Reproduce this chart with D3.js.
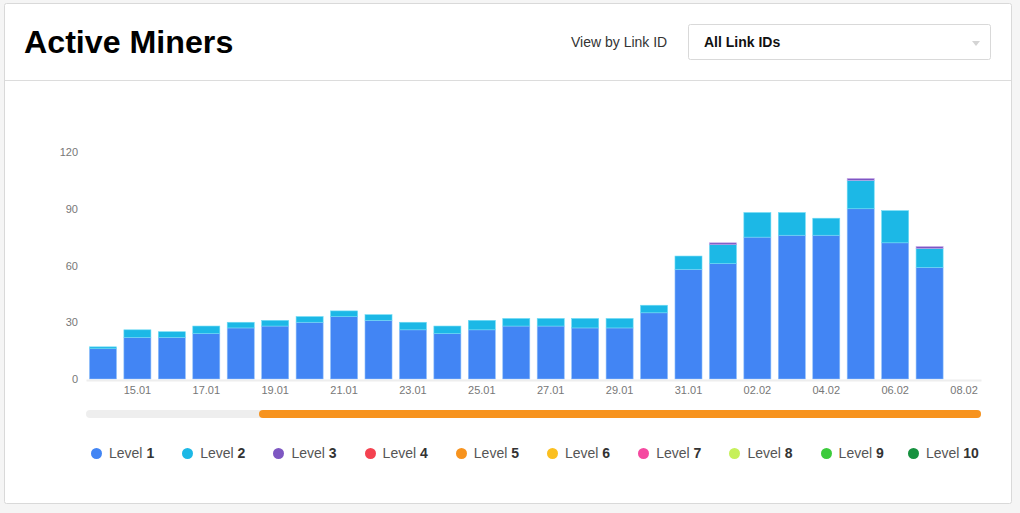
<!DOCTYPE html>
<html><head><meta charset="utf-8">
<script src="https://cdn.jsdelivr.net/npm/d3@7/dist/d3.min.js"></script>
<style>
html,body{margin:0;padding:0;background:#f5f5f5;width:1020px;height:513px;overflow:hidden;font-family:"Liberation Sans",Arial,sans-serif}
svg{position:absolute;left:0;top:0}
.legend{position:absolute;left:77px;width:912px;top:445px;display:grid;grid-template-columns:repeat(10,1fr);font-size:14px;line-height:16px;color:#555}
.legend .item{display:flex;align-items:center;justify-content:center}
.legend i{display:block;width:11px;height:11px;border-radius:50%;margin-right:7px}
.legend b{color:#333}
</style></head><body>
<svg id="chart" width="1020" height="513"></svg>
<div class="legend" id="legend"></div>
<script>
const dates = ["14.01","15.01","16.01","17.01","18.01","19.01","20.01","21.01","22.01","23.01","24.01","25.01","26.01","27.01","28.01","29.01","30.01","31.01","01.02","02.02","03.02","04.02","05.02","06.02","07.02","08.02"];
const tickDates = ["15.01","17.01","19.01","21.01","23.01","25.01","27.01","29.01","31.01","02.02","04.02","06.02","08.02"];
const yTicks = [0,30,60,90,120];
const level1 = [16,22,22,24,27,28,30,33,31,26,24,26,28,28,27,27,35,58,61,75,76,76,90,72,59,0];
const level2 = [1,4,3,4,3,3,3,3,3,4,4,5,4,4,5,5,4,7,10,13,12,9,15,17,10,0];
const level3 = [0,0,0,0,0,0,0,0,0,0,0,0,0,0,0,0,0,0,1,0,0,0,1,0,1,0];
const levelNames = ["1","2","3","4","5","6","7","8","9","10"];
const levelColors = ["#4285f4","#1cb8e6","#7e57c2","#f44250","#f7931e","#fbbf1f","#f549a0","#c6f05a","#3ccb3c","#16913f"];

const svg = d3.select("#chart");
// card
svg.append("rect").attr("x",4.5).attr("y",3.5).attr("width",1007).attr("height",500).attr("rx",2)
  .attr("fill","#fff").attr("stroke","#d9d9d9");
svg.append("line").attr("x1",5).attr("x2",1011).attr("y1",80.5).attr("y2",80.5).attr("stroke","#dcdcdc");
svg.append("text").attr("x",24).attr("y",53).attr("font-size",32.2).attr("font-weight",700).attr("fill","#000").text("Active Miners");
svg.append("text").attr("x",571).attr("y",47).attr("font-size",14).attr("fill","#333").text("View by Link ID");
svg.append("rect").attr("x",688.5).attr("y",24.5).attr("width",302).attr("height",35).attr("rx",2).attr("fill","#fff").attr("stroke","#d9d9d9");
svg.append("text").attr("x",704).attr("y",47).attr("font-size",14).attr("font-weight",700).attr("fill","#111").text("All Link IDs");
svg.append("path").attr("d","M972,41h8l-4,5z").attr("fill","#d4d4d4");

// scales
const x = d3.scaleBand().domain(dates).range([86,981]).paddingInner(0.215).paddingOuter(0.1);
const y = d3.scaleLinear().domain([0,120]).range([379,152]);

const rows = dates.map((d,i)=>({date:d,l1:level1[i],l2:level2[i],l3:level3[i]}));
const keys = ["l1","l2","l3"];
const stack = d3.stack().keys(keys)(rows);
const strokes = ["#8fc0fa","#6fdcf5","#c5a8ea"];

svg.append("g").selectAll("g").data(stack).join("g")
  .attr("fill",(d,i)=>levelColors[i]).attr("stroke",(d,i)=>strokes[i])
  .selectAll("rect").data(d=>d.filter(p=>p[1]>p[0])).join("rect")
  .attr("x",d=>x(d.data.date)).attr("width",x.bandwidth())
  .attr("y",d=>y(d[1])).attr("height",d=>y(d[0])-y(d[1]))
  .attr("stroke-width",0.6);

// axes
const xAxis = d3.axisBottom(x).tickValues(tickDates).tickSize(0).tickPadding(6);
const gx = svg.append("g").attr("transform","translate(0,380)").call(xAxis);
gx.select(".domain").attr("stroke","#eee").attr("stroke-width",2);
gx.selectAll("text").attr("font-size",11).attr("font-family","Liberation Sans").attr("fill","#777");
const yAxis = d3.axisLeft(y).tickValues(yTicks).tickSize(0).tickPadding(0);
const gy = svg.append("g").attr("transform","translate(78,0)").call(yAxis);
gy.select(".domain").remove();
gy.selectAll("text").attr("font-size",11).attr("font-family","Liberation Sans").attr("fill","#777");

// range slider
svg.append("rect").attr("x",86).attr("y",410).attr("width",895).attr("height",8).attr("rx",4).attr("fill","#eee");
svg.append("rect").attr("x",259).attr("y",410).attr("width",722).attr("height",8).attr("rx",4).attr("fill","#f7931e");

// legend
const items = d3.select("#legend").selectAll("div").data(levelNames).join("div").attr("class","item");
items.append("i").style("background",(d,i)=>levelColors[i]);
items.append("span").html(d=>"Level <b>"+d+"</b>");
</script>
</body></html>
